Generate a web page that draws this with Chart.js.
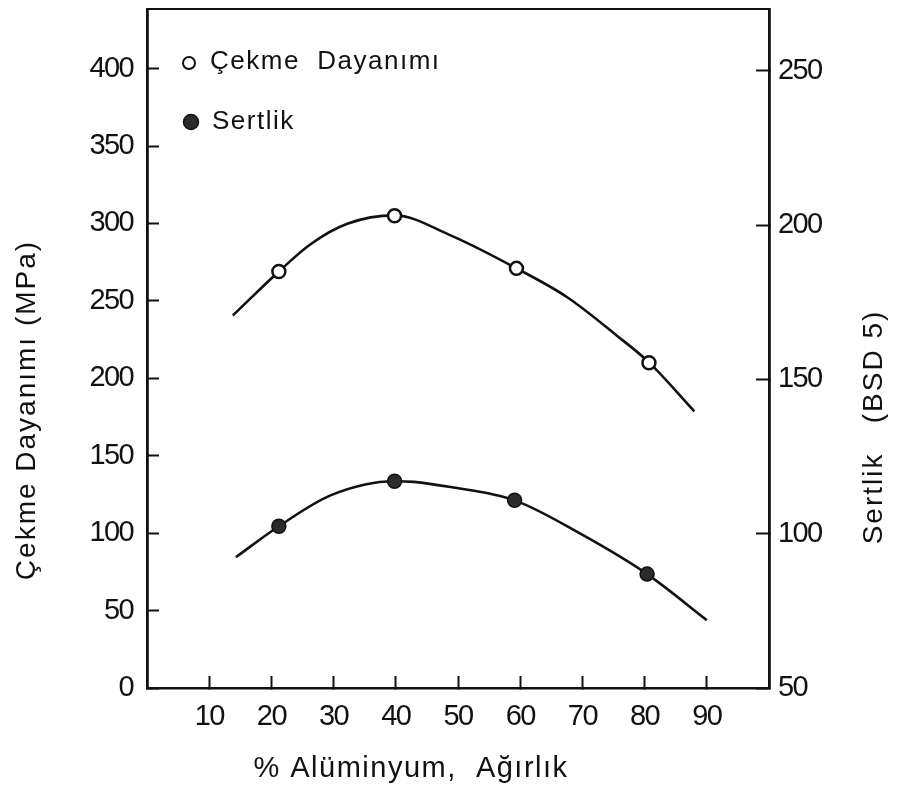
<!DOCTYPE html>
<html>
<head>
<meta charset="utf-8">
<script src="https://cdn.jsdelivr.net/npm/chart.js@4.4.1/dist/chart.umd.min.js"></script>
<style>
  html, body { margin: 0; padding: 0; background: #ffffff; }
  #wrap { width: 900px; height: 796px; position: relative; }
</style>
</head>
<body>
<div id="wrap"><canvas id="c"></canvas></div>
<script>
// ---- data ----
const xTickValues = [10, 20, 30, 40, 50, 60, 70, 80, 90];
const leftTickValues = [0, 50, 100, 150, 200, 250, 300, 350, 400];
const rightTickValues = [50, 100, 150, 200, 250];

// measured points: tensile strength (MPa, left axis)
const cekmeX = [21.2, 39.8, 59.4, 80.7];
const cekmeY = [269, 305, 271, 210];
// measured points: hardness (BSD5, right axis)
const sertlikX = [21.2, 39.8, 59.1, 80.4];
const sertlikY = [102.4, 117.0, 110.8, 86.9];

// hand-drawn fit curves
const cekmeCurveX = [13.8, 21.2, 26.4, 32.2, 39.8, 48.8, 59.4, 67.5, 75.5, 80.7, 88.0];
const cekmeCurveY = [240.6, 269, 286.9, 299.8, 305.2, 292.3, 271, 252.5, 227.7, 210.3, 178.7];
const sertlikCurveX = [14.3, 21.2, 29.6, 39.8, 42.9, 48.8, 59.1, 70.1, 80.4, 90.0];
const sertlikCurveY = [92.4, 102.4, 112.5, 117.0, 116.8, 115.1, 110.8, 99.5, 86.9, 72.0];

const labelCekme = 'Çekme  Dayanımı';
const labelSertlik = 'Sertlik';
const titleLeft = 'Çekme Dayanımı (MPa)';
const titleRight = 'Sertlik   (BSD 5)';
const titleX = '% Alüminyum,  Ağırlık';

const toXY = (xs, ys) => xs.map((x, i) => ({ x: x, y: ys[i] }));

const INK = '#111111';
const tickFont = { family: "'Liberation Sans', Arial, sans-serif", size: 29 };
const textFamily = "'Liberation Sans', Arial, sans-serif";

// narrow the tick digits like the hand lettering of the original
const spacingPlugin = {
  id: 'spacing',
  beforeDraw(chart) { chart.ctx.letterSpacing = '-1.6px'; },
  beforeDatasetsDraw(chart) { chart.ctx.letterSpacing = '0px'; }
};

const annotPlugin = {
  id: 'annot',
  afterDraw(chart) {
    const { ctx, chartArea: a } = chart;
    ctx.save();
    ctx.fillStyle = INK;
    ctx.textAlign = 'center';
    ctx.textBaseline = 'alphabetic';

    // left axis title (reads bottom to top)
    ctx.font = '28px ' + textFamily;
    ctx.letterSpacing = '2px';
    ctx.save();
    ctx.translate(a.left - 112, a.top + 401);
    ctx.rotate(-Math.PI / 2);
    ctx.fillText(titleLeft, 0, 0);
    ctx.restore();

    // right axis title (reads bottom to top)
    ctx.save();
    ctx.translate(a.right + 113, a.top + 418);
    ctx.rotate(-Math.PI / 2);
    ctx.fillText(titleRight, 0, 0);
    ctx.restore();

    // x axis title
    ctx.font = '29px ' + textFamily;
    ctx.letterSpacing = '1.5px';
    ctx.fillText(titleX, 411, a.bottom + 89);

    // legend inside plot area
    const dsOpen = chart.data.datasets[0];
    const dsFill = chart.data.datasets[1];
    ctx.textAlign = 'left';
    ctx.font = '26px ' + textFamily;
    ctx.letterSpacing = '1.5px';

    ctx.beginPath();
    ctx.arc(a.left + 42, a.top + 54, 6, 0, Math.PI * 2);
    ctx.fillStyle = dsOpen.pointBackgroundColor;
    ctx.fill();
    ctx.lineWidth = 2;
    ctx.strokeStyle = dsOpen.pointBorderColor;
    ctx.stroke();
    ctx.fillStyle = INK;
    ctx.fillText(labelCekme, a.left + 63, a.top + 60);

    ctx.beginPath();
    ctx.arc(a.left + 44, a.top + 113, 7.5, 0, Math.PI * 2);
    ctx.fillStyle = dsFill.pointBackgroundColor;
    ctx.fill();
    ctx.lineWidth = 1.5;
    ctx.strokeStyle = dsFill.pointBorderColor;
    ctx.stroke();
    ctx.fillStyle = INK;
    ctx.fillText(labelSertlik, a.left + 65, a.top + 120);

    ctx.restore();
  }
};

const noPadY = (w) => (s) => { s.width = w; s.paddingTop = 0; s.paddingBottom = 0; };
const noPadX = (h) => (s) => { s.height = h; s.paddingLeft = 0; s.paddingRight = 0; };

new Chart(document.getElementById('c'), {
  type: 'scatter',
  data: {
    datasets: [
      {
        label: labelCekme,
        data: toXY(cekmeX, cekmeY),
        yAxisID: 'y',
        showLine: false,
        pointRadius: 6.5,
        pointBorderWidth: 2.5,
        pointBackgroundColor: '#ffffff',
        pointBorderColor: INK,
        order: 0
      },
      {
        label: labelSertlik,
        data: toXY(sertlikX, sertlikY),
        yAxisID: 'y2',
        showLine: false,
        pointRadius: 7,
        pointBorderWidth: 1.5,
        pointBackgroundColor: '#2b2b2b',
        pointBorderColor: INK,
        order: 0
      },
      {
        label: 'cekme-egri',
        data: toXY(cekmeCurveX, cekmeCurveY),
        yAxisID: 'y',
        showLine: true,
        pointRadius: 0,
        borderColor: INK,
        borderWidth: 2.6,
        cubicInterpolationMode: 'monotone',
        fill: false,
        order: 1
      },
      {
        label: 'sertlik-egri',
        data: toXY(sertlikCurveX, sertlikCurveY),
        yAxisID: 'y2',
        showLine: true,
        pointRadius: 0,
        borderColor: INK,
        borderWidth: 2.6,
        cubicInterpolationMode: 'monotone',
        fill: false,
        order: 1
      }
    ]
  },
  options: {
    responsive: true,
    maintainAspectRatio: false,
    animation: false,
    events: [],
    layout: { padding: 0 },
    plugins: {
      legend: { display: false },
      tooltip: { enabled: false },
      title: { display: false }
    },
    scales: {
      x: {
        type: 'linear',
        position: 'bottom',
        min: 0,
        max: 100,
        afterBuildTicks: (s) => { s.ticks = xTickValues.map(v => ({ value: v })); },
        afterFit: noPadX(108),
        ticks: { color: INK, font: tickFont, padding: 24, maxRotation: 0, autoSkip: false },
        grid: { drawOnChartArea: false, drawTicks: true, tickLength: -12, tickWidth: 2, tickColor: INK },
        border: { display: true, color: INK, width: 2.5 }
      },
      xTop: {
        type: 'linear',
        position: 'top',
        min: 0,
        max: 100,
        afterFit: noPadX(8),
        ticks: { display: false },
        grid: { display: false },
        border: { display: true, color: INK, width: 2 }
      },
      y: {
        type: 'linear',
        position: 'left',
        min: 0,
        max: 438.5,
        afterBuildTicks: (s) => { s.ticks = leftTickValues.map(v => ({ value: v })); },
        afterFit: noPadY(147),
        ticks: { color: INK, font: tickFont, padding: 26, autoSkip: false },
        grid: { drawOnChartArea: false, drawTicks: true, tickLength: -12, tickWidth: 2, tickColor: INK },
        border: { display: true, color: INK, width: 2.8 }
      },
      y2: {
        type: 'linear',
        position: 'right',
        min: 50,
        max: 270,
        afterBuildTicks: (s) => { s.ticks = rightTickValues.map(v => ({ value: v })); },
        afterFit: noPadY(131),
        ticks: { color: INK, font: tickFont, padding: 22, autoSkip: false },
        grid: { drawOnChartArea: false, drawTicks: true, tickLength: -13, tickWidth: 2, tickColor: INK },
        border: { display: true, color: INK, width: 2.8 }
      }
    }
  },
  plugins: [spacingPlugin, annotPlugin]
});
</script>
</body>
</html>
